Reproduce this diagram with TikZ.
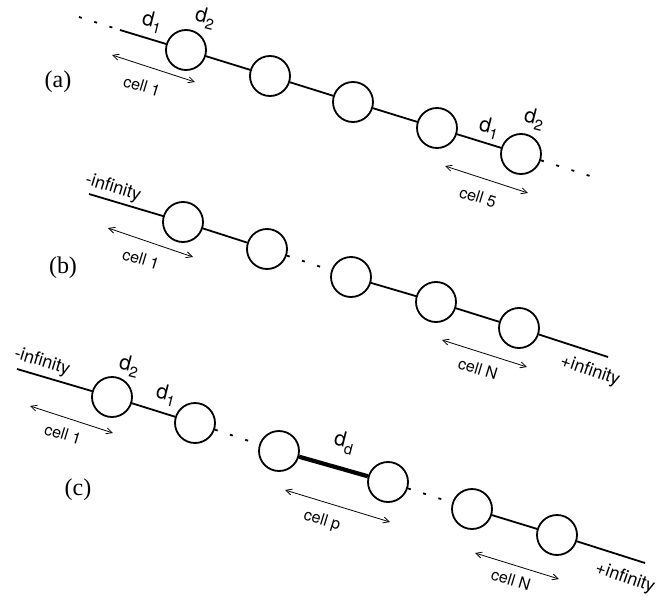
\documentclass[tikz,border=0pt]{standalone}
\usepackage{fontspec}
\usepackage{graphicx}
\setmainfont{TeX Gyre Heros}
\newfontfamily\serifl{Liberation Serif}
\usetikzlibrary{arrows.meta}
\newcommand{\dlab}[1]{\rotatebox{-14}{{\fontsize{21}{21}\selectfont d}\raisebox{-6pt}{\fontsize{15}{15}\selectfont #1}}}
\newcommand{\rlab}[2]{\rotatebox{#1}{#2}}
\tikzset{
  bead/.style={circle, draw, line width=1.8pt, minimum size=40pt, inner sep=0pt},
  chainline/.style={line width=1.8pt},
  dotline/.style={line width=1.8pt, dash pattern=on 3pt off 13pt},
  heavy/.style={line width=4.2pt},
  span/.style={{Straight Barb[length=6pt,width=6pt]}-{Straight Barb[length=6pt,width=6pt]}, line width=0.8pt},
  lbl/.style={font=\fontsize{16}{16}\selectfont, inner sep=0pt},
  inflbl/.style={font=\fontsize{18}{18}\selectfont, inner sep=0pt},
  dl/.style={inner sep=0pt},
  part/.style={font=\serifl\fontsize{24}{24}\selectfont, inner sep=0pt}
}
\begin{document}
\begin{tikzpicture}[x=1pt,y=1pt]
\useasboundingbox (0,0) rectangle (656,-602);
% ---------- (a)
\node[bead] (a1) at (186,-50) {};
\node[bead] (a2) at (270,-76) {};
\node[bead] (a3) at (353,-102) {};
\node[bead] (a4) at (437,-128) {};
\node[bead] (a5) at (521,-154) {};
\coordinate (aL0) at (79,-17);
\coordinate (aL1) at (120,-30);
\coordinate (aR) at (590,-176);
\draw[dotline] (aL0) -- (aL1);
\draw[chainline] (aL1) -- (a1);
\draw[chainline] (a1) -- (a2);
\draw[chainline] (a2) -- (a3);
\draw[chainline] (a3) -- (a4);
\draw[chainline] (a4) -- (a5);
\draw[dotline] (a5) -- (aR);
\node[dl] (ad1) at (152,-22) {\dlab{1}};
\node[dl] (ad2) at (205,-18) {\dlab{2}};
\node[dl] (ad1b) at (489,-128) {\dlab{1}};
\node[dl] (ad2b) at (534,-119) {\dlab{2}};
\node[part] (pa) at (58,-82) {(a)};
\coordinate (aS1) at (112,-55);
\coordinate (aE1) at (195,-82);
\draw[span] (aS1) -- (aE1);
\node[lbl] (ac1) at (142,-86) {\rlab{-17}{cell 1}};
\coordinate (aS5) at (445,-166);
\coordinate (aE5) at (528,-193);
\draw[span] (aS5) -- (aE5);
\node[lbl] (ac5) at (478,-197) {\rlab{-17}{cell 5}};
% ---------- (b)
\node[bead] (b1) at (183,-222) {};
\node[bead] (b2) at (267,-249) {};
\node[bead] (b3) at (351,-277) {};
\node[bead] (b4) at (436,-302) {};
\node[bead] (b5) at (519,-328) {};
\coordinate (bL) at (89,-194);
\coordinate (bR) at (608,-357);
\draw[chainline] (bL) -- (b1);
\draw[chainline] (b1) -- (b2);
\draw[dotline] (b2) -- (b3);
\draw[chainline] (b3) -- (b4);
\draw[chainline] (b4) -- (b5);
\draw[chainline] (b5) -- (bR);
\node[inflbl] (bmi) at (113,-188) {\rlab{-17}{-infinity}};
\node[inflbl] (bpi) at (590,-371) {\rlab{-19}{+infinity}};
\node[part] (pb) at (63,-268) {(b)};
\coordinate (bS1) at (108,-228);
\coordinate (bE1) at (193,-257);
\draw[span] (bS1) -- (bE1);
\node[lbl] (bc1) at (141,-259) {\rlab{-17}{cell 1}};
\coordinate (bSN) at (442,-340);
\coordinate (bEN) at (527,-367);
\draw[span] (bSN) -- (bEN);
\node[lbl] (bcN) at (478,-369) {\rlab{-17}{cell N}};
% ---------- (c)
\node[bead] (c1) at (112,-397) {};
\node[bead] (c2) at (195,-423) {};
\node[bead] (c3) at (279,-451) {};
\node[bead] (c4) at (388,-482) {};
\node[bead] (c5) at (472,-509) {};
\node[bead] (c6) at (557,-535) {};
\coordinate (cL) at (17,-369);
\coordinate (cR) at (645,-563);
\draw[chainline] (cL) -- (c1);
\draw[chainline] (c1) -- (c2);
\draw[dotline] (c2) -- (c3);
\draw[heavy] (c3) -- (c4);
\draw[dotline] (c4) -- (c5);
\draw[chainline] (c5) -- (c6);
\draw[chainline] (c6) -- (cR);
\node[inflbl] (cmi) at (42,-362) {\rlab{-17}{-infinity}};
\node[inflbl] (cpi) at (625,-578) {\rlab{-19}{+infinity}};
\node[dl] (cd2) at (129,-366) {\dlab{2}};
\node[dl] (cd1) at (166,-395) {\dlab{1}};
\node[dl] (cdd) at (344,-443) {\dlab{d}};
\node[part] (pc) at (78,-490) {(c)};
\coordinate (cS1) at (30,-406);
\coordinate (cE1) at (113,-433);
\draw[span] (cS1) -- (cE1);
\node[lbl] (cc1) at (63,-434) {\rlab{-17}{cell 1}};
\coordinate (cSp) at (285,-490);
\coordinate (cEp) at (390,-522);
\draw[span] (cSp) -- (cEp);
\node[lbl] (ccp) at (322,-521) {\rlab{-17}{cell p}};
\coordinate (cSN) at (475,-553);
\coordinate (cEN) at (559,-579);
\draw[span] (cSN) -- (cEN);
\node[lbl] (ccN) at (511,-580) {\rlab{-17}{cell N}};
\end{tikzpicture}
\end{document}
